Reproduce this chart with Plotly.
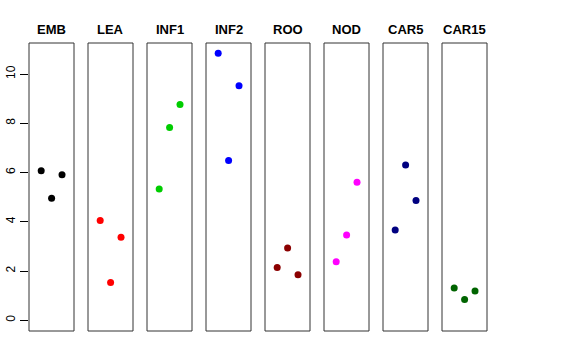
import plotly.graph_objects as go

panels = ["EMB", "LEA", "INF1", "INF2", "ROO", "NOD", "CAR5", "CAR15"]
colors = ["#000000", "#FF0000", "#00CD00", "#0000FF", "#8B0000", "#FF00FF", "#000080", "#006400"]
positions = [1, 2, 3]
values_EMB = [6.07, 4.96, 5.91]
values_LEA = [4.05, 1.53, 3.37]
values_INF1 = [5.33, 7.83, 8.76]
values_INF2 = [10.84, 6.49, 9.52]
values_ROO = [2.14, 2.94, 1.85]
values_NOD = [2.38, 3.46, 5.61]
values_CAR5 = [3.67, 6.31, 4.86]
values_CAR15 = [1.31, 0.84, 1.19]
all_values = [values_EMB, values_LEA, values_INF1, values_INF2,
              values_ROO, values_NOD, values_CAR5, values_CAR15]
y_ticks = [0, 2, 4, 6, 8, 10]

W, H = 576, 360
ml, mt = 29, 43
mr = W - 488
mb = H - 331
pw = W - ml - mr
ph = H - mt - mb
step, width = 59, 45

fig = go.Figure()
layout = {}
shapes = []
annotations = []
title_y = ((H - mb) - 29.3) / ph
for i, (name, col, vals) in enumerate(zip(panels, colors, all_values)):
    ax = "x" if i == 0 else f"x{i+1}"
    axkey = "xaxis" if i == 0 else f"xaxis{i+1}"
    fig.add_trace(go.Scatter(x=positions, y=vals, mode="markers", xaxis=ax, yaxis="y",
                             marker=dict(color=col, size=7, line=dict(width=0)),
                             showlegend=False))
    d0 = step * i / pw
    d1 = (step * i + width) / pw
    layout[axkey] = dict(domain=[d0, d1], range=[-0.17, 4.15], anchor="y",
                         showgrid=False, zeroline=False, showticklabels=False,
                         ticks="", showline=False, fixedrange=True, automargin=False)
    shapes.append(dict(type="rect", xref=f"{ax} domain", yref="y domain",
                       x0=0, x1=1, y0=0, y1=1, line=dict(color="#333333", width=1),
                       fillcolor="rgba(0,0,0,0)", layer="above"))
    annotations.append(dict(text=f"<b>{name}</b>", xref="paper", yref="paper",
                            x=(d0 + d1) / 2, y=title_y,
                            xanchor="center", yanchor="middle", showarrow=False,
                            font=dict(size=13, color="black", family="Liberation Sans")))

fig.update_layout(
    width=W, height=H, autosize=False,
    margin=dict(l=ml, r=mr, t=mt, b=mb, pad=0, autoexpand=False),
    paper_bgcolor="white", plot_bgcolor="white",
    font=dict(family="Liberation Sans", color="black"),
    yaxis=dict(range=[-0.435, 11.26], tickvals=y_ticks, ticktext=[str(v) for v in y_ticks],
               ticks="outside", ticklen=8, tickcolor="black", tickwidth=1,
               tickangle=-90, tickfont=dict(size=12, color="black"),
               showgrid=False, zeroline=False, showline=False, anchor="x",
               fixedrange=True, automargin=False),
    shapes=shapes, annotations=annotations,
    **layout,
)
fig.write_html("out.html", config={"displayModeBar": False, "staticPlot": True},
               post_script="document.body.style.margin='0';document.body.style.padding='0';")
